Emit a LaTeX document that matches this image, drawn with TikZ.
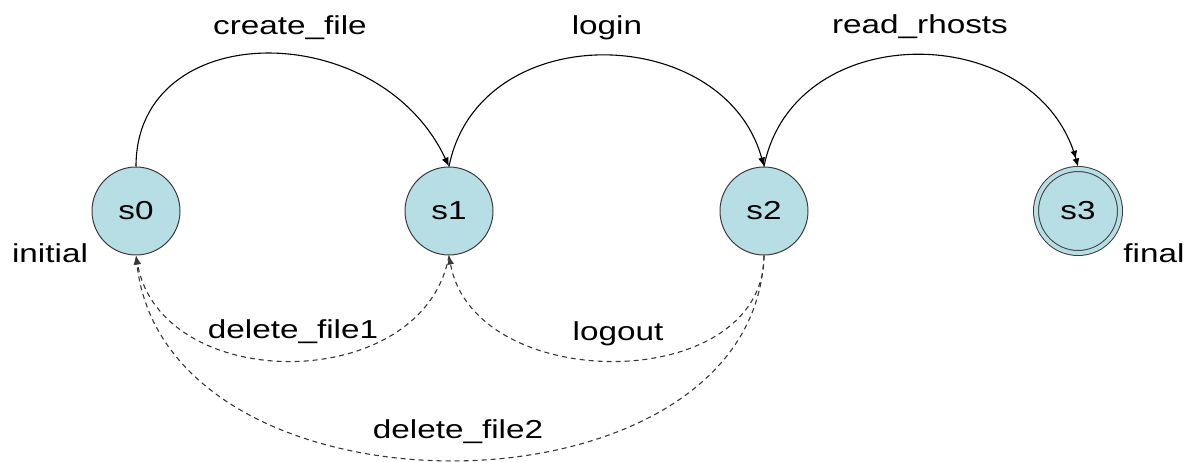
\documentclass[tikz,border=0pt]{standalone}
\usepackage{fontspec}
\newfontfamily\labelfont[FakeStretch=1.28]{Liberation Sans}
\usetikzlibrary{arrows.meta}
\definecolor{statefill}{RGB}{183,222,228}
\definecolor{stateline}{RGB}{60,60,60}
\definecolor{dashline}{RGB}{55,55,55}
\tikzset{
  state/.style={circle, draw=stateline, line width=1pt, fill=statefill,
    minimum size=88pt, inner sep=0pt, font=\labelfont\fontsize{26}{30}\selectfont},
  finalstate/.style={state, double=statefill, double distance=4pt, minimum size=84pt},
  lbl/.style={anchor=base, inner sep=0pt, font=\labelfont\fontsize{26}{30}\selectfont},
  fwd/.style={draw=black, line width=1.1pt, -{Latex[length=9pt,width=7pt]}},
  back/.style={draw=dashline, line width=1.1pt, dash pattern=on 5pt off 4pt,
    -{Latex[length=9pt,width=7pt]}}
}
\begin{document}
\begin{tikzpicture}[x=1pt,y=1pt]
\useasboundingbox (0,0) rectangle (1197,461);

% states
\node[state] (s0) at (136,250) {s0};
\node[state] (s1) at (449,250) {s1};
\node[state] (s2) at (764,250) {s2};
\node[finalstate] (s3) at (1078,250) {s3};

% forward transitions
\draw[fwd] (s0.north) .. controls +(0,150) and +(-70,150) .. (s1.north);
\draw[fwd] (s1.north) .. controls +(30,150) and +(-40,145) .. (s2.north);
\draw[fwd, -{Latex[length=8pt,width=7pt] Latex[length=8pt,width=7pt]}]
  (s2.north) .. controls +(30,150) and +(-40,147) .. ([yshift=2pt]s3.north);

% backward transitions
\draw[back] (s1.south) .. controls +(-25,-140) and +(25,-140) .. (s0.south);
\draw[back] (s2.south) .. controls +(0,-140) and +(25,-140) .. (s1.south);
\draw[back] (s2.south) .. controls +(-10,-270) and +(30,-275) .. (s0.south);

% transition labels
\node[lbl] (tcreate) at (290,426) {create\_file};
\node[lbl] (tlogin) at (607,426) {login};
\node[lbl] (tread) at (920,427) {read\_rhosts};
\node[lbl] (tdel1) at (293,123) {delete\_file1};
\node[lbl] (tlogout) at (618,121) {logout};
\node[lbl] (tdel2) at (458,23) {delete\_file2};

% state annotations
\node[lbl] (tinit) at (50,198) {initial};
\node[lbl] (tfinal) at (1154,198) {final};
\end{tikzpicture}
\end{document}
